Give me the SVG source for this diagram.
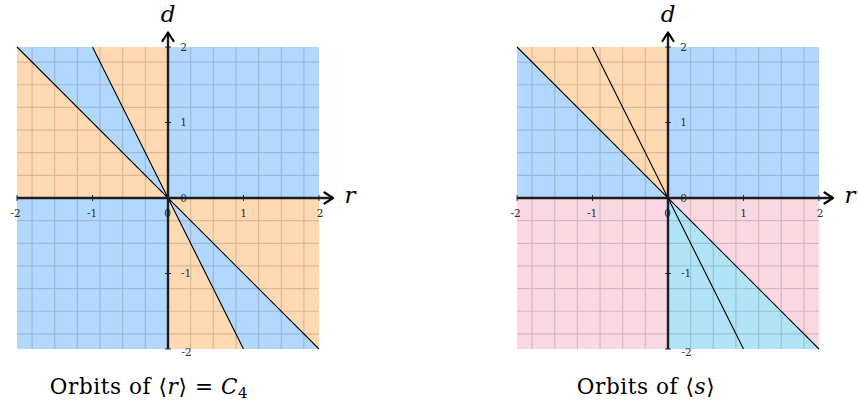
<svg xmlns="http://www.w3.org/2000/svg" xmlns:xlink="http://www.w3.org/1999/xlink" width="858" height="407" viewBox="0 0 858 407">
<style>
.blue{fill:#B3D8FF}
.orange{fill:#FFD9B2}
.pink{fill:#F9D8E2}
.cyan{fill:#B2E4F8}
.grid{stroke:#3a3a3a;stroke-opacity:0.2;stroke-width:1.2;fill:none}
.div{stroke:#000;stroke-width:1.1;fill:none}
.axis{stroke:#1c1c24;stroke-width:2.4;fill:none}
.arrow{stroke:#000;stroke-width:2.2;fill:none;stroke-linecap:round;stroke-linejoin:round}
.tick{stroke:#1c1c24;stroke-width:0.9}
.tl{font-family:'DejaVu Serif',serif;font-size:10.5px;fill:#2c2c34}
.ax{font-family:'DejaVu Serif',serif;font-size:23px;font-style:italic;fill:#000}
.cap{font-family:'DejaVu Serif',serif;font-size:21.5px;letter-spacing:0.6px;fill:#000}
</style>
<defs>
<path id="gridpath" class="grid" d="M22.65,-151V151M45.3,-151V151M67.95,-151V151M90.6,-151V151M113.25,-151V151M135.9,-151V151M-22.65,-151V151M-45.3,-151V151M-67.95,-151V151M-90.6,-151V151M-113.25,-151V151M-135.9,-151V151M-151,22.65H151M-151,45.3H151M-151,67.95H151M-151,90.6H151M-151,113.25H151M-151,135.9H151M-151,-22.65H151M-151,-45.3H151M-151,-67.95H151M-151,-90.6H151M-151,-113.25H151M-151,-135.9H151"/>
<g id="axes">
<g class="tl" text-anchor="middle">
<text x="15.5" y="-147.5">2</text>
<text x="15.5" y="-72">1</text>
<text x="15.5" y="3.5">0</text>
<text x="18" y="79">-1</text>
<text x="18.5" y="157.5">-2</text>
<text x="-152.5" y="18.5">-2</text>
<text x="-76" y="18.5">-1</text>
<text x="-0.5" y="18.5">0</text>
<text x="75.5" y="18.5">1</text>
<text x="152" y="18.5">2</text>
</g>
<path class="axis" d="M0,151V-164M-151,0H164"/>
<path class="tick" d="M-3,-151H3M-3,-75.5H3M-3,75.5H3M-3,151H3M-151,-3V3M-75.5,-3V3M75.5,-3V3M151,-3V3"/>
<path class="arrow" d="M-5.5,-157L0,-165.5L5.5,-157M156.5,-5.5L165,0L156.5,5.5"/>
<text class="ax" x="0" y="-176" text-anchor="middle">d</text>
<text class="ax" x="182" y="5" text-anchor="middle">r</text>
</g>
</defs>

<g id="plot-r" transform="translate(168,198)">
<rect class="blue" x="-151" y="-151" width="302" height="302"/>
<polygon class="orange" points="0,0 0,-151 -75.5,-151"/>
<polygon class="orange" points="0,0 -151,-151 -151,0"/>
<polygon class="orange" points="0,0 0,151 75.5,151"/>
<polygon class="orange" points="0,0 151,151 151,0"/>
<use xlink:href="#gridpath"/>
<g id="connectors-r">
<path class="div" d="M-75.5,-151L75.5,151M-151,-151L151,151"/>
</g>
<use xlink:href="#axes"/>
</g>

<g id="plot-s" transform="translate(668,198)">
<rect class="blue" x="-151" y="-151" width="302" height="302"/>
<polygon class="orange" points="0,0 0,-151 -151,-151"/>
<rect class="pink" x="-151" y="0" width="302" height="151"/>
<polygon class="cyan" points="0,0 0,151 151,151"/>
<use xlink:href="#gridpath"/>
<g id="connectors-s">
<path class="div" d="M-75.5,-151L75.5,151M-151,-151L151,151"/>
</g>
<use xlink:href="#axes"/>
</g>

<g id="captions">
<text class="cap" x="149" y="394" text-anchor="middle">Orbits of ⟨<tspan font-style="italic">r</tspan>⟩ = <tspan font-style="italic">C</tspan><tspan font-size="15" dy="4">4</tspan></text>
<text class="cap" x="646" y="394" text-anchor="middle">Orbits of ⟨<tspan font-style="italic">s</tspan>⟩</text>
</g>
</svg>
